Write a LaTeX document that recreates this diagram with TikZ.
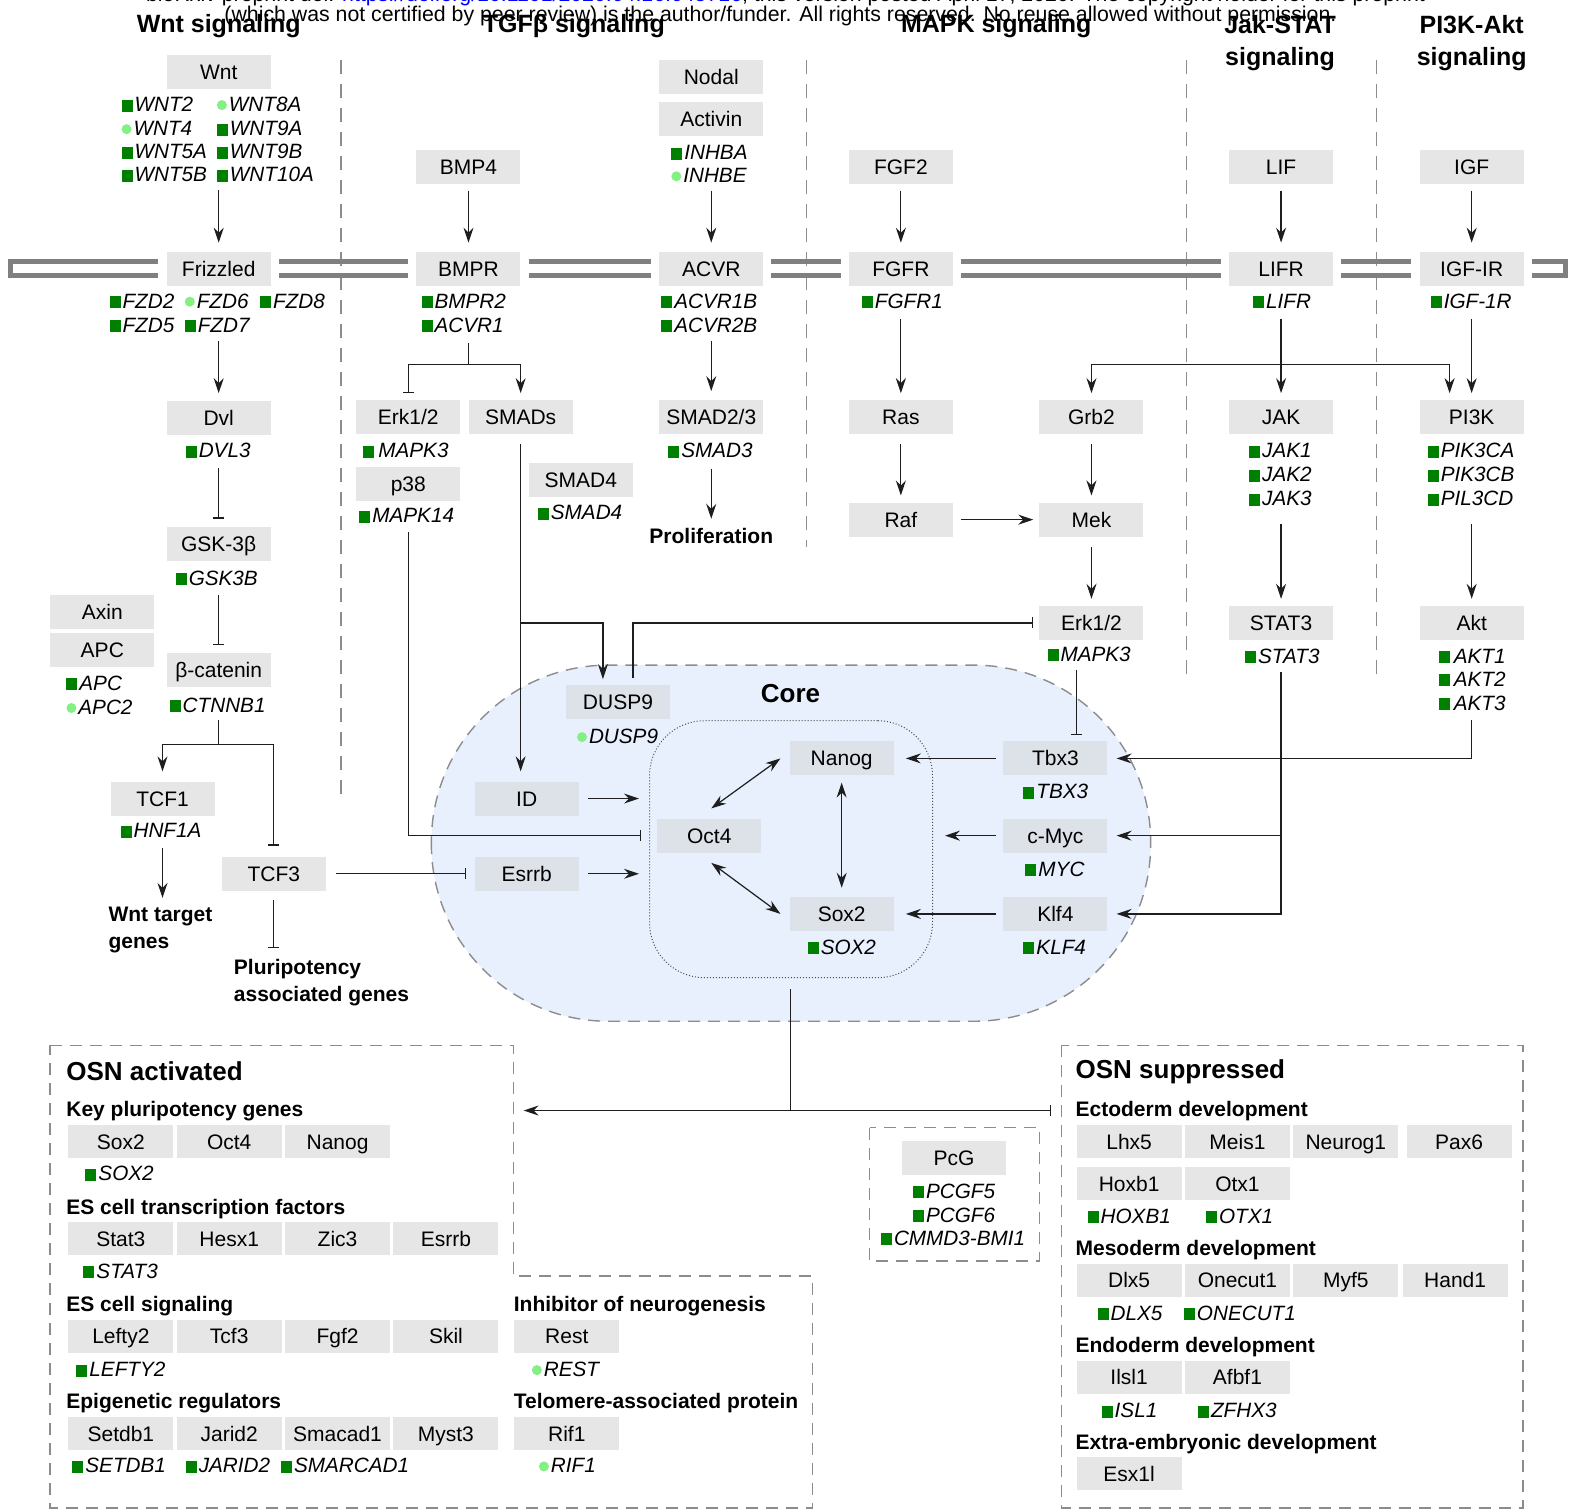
\documentclass[tikz,border=0pt]{standalone}
\usepackage{fontspec}
\setmainfont{Liberation Sans}
\usepackage{xcolor}
\usetikzlibrary{arrows.meta, positioning, calc}

\definecolor{boxgray}{RGB}{230,230,230}
\definecolor{coregray}{RGB}{221,225,232}
\definecolor{corefill}{RGB}{232,240,253}
\definecolor{sqgreen}{RGB}{0,128,0}
\definecolor{cigreen}{RGB}{130,240,130}
\definecolor{memgray}{RGB}{128,128,128}
\definecolor{dashgray}{RGB}{140,140,140}
\definecolor{linkcol}{RGB}{30,30,30}

% gene markers: square = detected, dot = weak
\newcommand{\sqm}{\textcolor{sqgreen}{\rule{11pt}{12pt}}\kern2pt}
\newcommand{\cim}{\tikz[baseline=0pt]\fill[cigreen] (5pt,6.5pt) circle[radius=5pt];\kern2pt}

\begin{document}
\begin{tikzpicture}[
  x=1.0032pt, y=-1.0032pt,
  box/.style={rectangle, fill=boxgray, minimum width=104pt, minimum height=34pt, inner sep=0pt, text height=15pt, text depth=0pt, font=\fontsize{21}{25}\selectfont},
  cbox/.style={box, fill=coregray},
  obox/.style={box, minimum width=105pt, minimum height=33pt},
  gene/.style={anchor=west, inner sep=0pt, text height=14.5pt, text depth=0pt, font=\fontsize{20.7}{25}\selectfont\itshape},
  heading/.style={align=center, inner sep=0pt, font=\fontsize{25}{32}\selectfont\bfseries},
  osnhead/.style={anchor=west, inner sep=0pt, font=\fontsize{26}{30}\selectfont\bfseries},
  grouplabel/.style={anchor=west, inner sep=0pt, text height=15pt, text depth=0pt, font=\fontsize{21}{25}\selectfont\bfseries},
  outcome/.style={align=left, inner sep=0pt, font=\fontsize{21}{27}\selectfont\bfseries},
  link/.style={linkcol, line width=1.2pt},
  arrow/.style={link, -{Stealth[length=15pt, width=10pt, inset=5pt]}},
  inhib/.style={link, -{Bar[width=11pt]}},
  dbl/.style={link, {Stealth[length=15pt, width=10pt, inset=5pt]}-{Stealth[length=15pt, width=10pt, inset=5pt]}},
  divider/.style={dashgray, line width=1.2pt, dash pattern=on 14pt off 10pt},
  boxline/.style={dashgray, line width=1.4pt, dash pattern=on 12pt off 8pt},
  membrane/.style={memgray, line width=5pt}
]
\useasboundingbox (0,0) rectangle (1568,1505);

% preprint header
\node[inner sep=0pt, font=\fontsize{21.3}{25}\selectfont] (hdr1) at (783,-4) {bioRxiv preprint doi: \textcolor{blue}{https://doi.org/10.1101/2020.04.16.045716}; this version posted April 17, 2020. The copyright holder for this preprint};
\node[inner sep=0pt, font=\fontsize{21.3}{25}\selectfont] (hdr2) at (778,16) {(which was not certified by peer review) is the author/funder. All rights reserved. No reuse allowed without permission.};

% pathway titles
\node[heading] (h-wnt) at (218,26.5) {Wnt signaling};
\node[heading] (h-tgf) at (572,26.5) {TGFβ signaling};
\node[heading] (h-mapk) at (993,26.5) {MAPK signaling};
\node[heading] (h-jak) at (1276,42.5) {Jak-STAT\\signaling};
\node[heading] (h-pi3k) at (1467,42.5) {PI3K-Akt\\signaling};

\draw[divider] (340,60) -- (340,795);
\draw[divider] (804,60) -- (804,545);
\draw[divider] (1183,60) -- (1183,672);
\draw[divider] (1372,60) -- (1372,672);

% core network background
\draw[boxline, fill=corefill, rounded corners=177pt] (430,663) rectangle (1147,1018);
\node[draw=black!70, dotted, line width=1pt, rounded corners=55pt, minimum width=283pt, minimum height=257pt, inner sep=0pt] (ring) at (788.5,846.5) {};
\node[inner sep=0pt, font=\fontsize{26}{30}\selectfont\bfseries] (core) at (788,691) {Core};

% Wnt
\node[box] (wnt) at (218,72) {Wnt};
\node[gene] (g-wnt2) at (121,104) {\sqm WNT2};
\node[gene] (g-wnt8a) at (216,104) {\cim WNT8A};
\node[gene] (g-wnt4) at (121,128) {\cim WNT4};
\node[gene] (g-wnt9a) at (216,128) {\sqm WNT9A};
\node[gene] (g-wnt5a) at (121,151) {\sqm WNT5A};
\node[gene] (g-wnt9b) at (216,151) {\sqm WNT9B};
\node[gene] (g-wnt5b) at (121,174) {\sqm WNT5B};
\node[gene] (g-wnt10a) at (216,174) {\sqm WNT10A};
\node[box] (frz) at (218,268) {Frizzled};
\node[gene] (g-fzd2) at (109,300) {\sqm FZD2};
\node[gene] (g-fzd6) at (184,300) {\cim FZD6};
\node[gene] (g-fzd8) at (259,300) {\sqm FZD8};
\node[gene] (g-fzd5) at (109,324) {\sqm FZD5};
\node[gene] (g-fzd7) at (184,324) {\sqm FZD7};
\node[box] (dvl) at (218,417) {Dvl};
\node[gene] (g-dvl3) at (185,449) {\sqm DVL3};
\node[box] (gsk) at (218,542) {GSK-3β};
\node[gene] (g-gsk3b) at (175,576) {\sqm GSK3B};
\node[box] (axin) at (102,610) {Axin};
\node[box] (apc) at (102,648) {APC};
\node[gene] (g-apc) at (66,681) {\sqm APC};
\node[gene] (g-apc2) at (66,705) {\cim APC2};
\node[box] (bcat) at (218,668) {β-catenin};
\node[gene] (g-ctnnb1) at (169,703) {\sqm CTNNB1};
\node[box] (tcf1) at (162,796) {TCF1};
\node[gene] (g-hnf1a) at (120,828) {\sqm HNF1A};
\node[box] (tcf3) at (273,871) {TCF3};
\node[outcome, anchor=north west] (wtg) at (108,904) {Wnt target\\genes};
\node[outcome, anchor=north west] (pag) at (233,956) {Pluripotency\\associated genes};

% TGFb
\node[box] (bmp4) at (467,166) {BMP4};
\node[box] (bmpr) at (467,268) {BMPR};
\node[gene] (g-bmpr2) at (420,300) {\sqm BMPR2};
\node[gene] (g-acvr1) at (420,324) {\sqm ACVR1};
\node[box] (erk1) at (407,416) {Erk1/2};
\node[gene] (g-mapk3a) at (362,449) {\sqm\kern2pt MAPK3};
\node[box] (p38) at (407,482) {p38};
\node[gene] (g-mapk14) at (358,514) {\sqm MAPK14};
\node[box] (smads) at (519,416) {SMADs};
\node[box] (smad4) at (579,478) {SMAD4};
\node[gene] (g-smad4) at (536,511) {\sqm SMAD4};
\node[box] (nodal) at (709,77) {Nodal};
\node[box] (activin) at (709,119) {Activin};
\node[gene] (g-inhba) at (669,152) {\sqm INHBA};
\node[gene] (g-inhbe) at (669,175) {\cim INHBE};
\node[box] (acvr) at (709,268) {ACVR};
\node[gene] (g-acvr1b) at (659,300) {\sqm ACVR1B};
\node[gene] (g-acvr2b) at (659,324) {\sqm ACVR2B};
\node[box] (smad23) at (709,416) {SMAD2/3};
\node[gene] (g-smad3) at (666,449) {\sqm SMAD3};
\node[inner sep=0pt, font=\fontsize{21}{25}\selectfont\bfseries] (prolif) at (709,534) {Proliferation};

% MAPK
\node[box] (fgf2) at (898,166) {FGF2};
\node[box] (fgfr) at (898,268) {FGFR};
\node[gene] (g-fgfr1) at (859,300) {\sqm FGFR1};
\node[box] (ras) at (898,416) {Ras};
\node[box] (raf) at (898,518) {Raf};
\node[box] (grb2) at (1088,416) {Grb2};
\node[box] (mek) at (1088,518) {Mek};
\node[box] (erk2) at (1088,621) {Erk1/2};
\node[gene] (g-mapk3b) at (1044,652) {\sqm MAPK3};

% Jak-STAT
\node[box] (lif) at (1277,166) {LIF};
\node[box] (lifr) at (1277,268) {LIFR};
\node[gene] (g-lifr) at (1249,300) {\sqm LIFR};
\node[box] (jak) at (1277,416) {JAK};
\node[gene] (g-jak1) at (1245,449) {\sqm JAK1};
\node[gene] (g-jak2) at (1245,473) {\sqm JAK2};
\node[gene] (g-jak3) at (1245,497) {\sqm JAK3};
\node[box] (stat3) at (1277,621) {STAT3};
\node[gene] (g-stat3a) at (1241,654) {\sqm STAT3};

% PI3K-Akt
\node[box] (igf) at (1467,166) {IGF};
\node[box] (igfr) at (1467,268) {IGF-IR};
\node[gene] (g-igf1r) at (1426,300) {\sqm IGF-1R};
\node[box] (pi3k) at (1467,416) {PI3K};
\node[gene] (g-pik3ca) at (1423,449) {\sqm PIK3CA};
\node[gene] (g-pik3cb) at (1423,473) {\sqm PIK3CB};
\node[gene] (g-pil3cd) at (1423,497) {\sqm PIL3CD};
\node[box] (akt) at (1467,621) {Akt};
\node[gene] (g-akt1) at (1434,654) {\sqm\kern2pt AKT1};
\node[gene] (g-akt2) at (1434,677) {\sqm\kern2pt AKT2};
\node[gene] (g-akt3) at (1434,701) {\sqm\kern2pt AKT3};

% core
\node[cbox] (dusp9) at (616,700) {DUSP9};
\node[gene] (g-dusp9) at (575,734) {\cim DUSP9};
\node[cbox] (id) at (525,796) {ID};
\node[cbox] (esrrb) at (525,871) {Esrrb};
\node[cbox] (oct4) at (707,833) {Oct4};
\node[cbox] (nanog) at (839,756) {Nanog};
\node[cbox] (sox2) at (839,911) {Sox2};
\node[gene] (g-sox2a) at (805,944) {\sqm SOX2};
\node[cbox] (tbx3) at (1052,756) {Tbx3};
\node[gene] (g-tbx3) at (1020,789) {\sqm TBX3};
\node[cbox] (cmyc) at (1052,833) {c-Myc};
\node[gene] (g-myc) at (1022,866) {\sqm MYC};
\node[cbox] (klf4) at (1052,911) {Klf4};
\node[gene] (g-klf4) at (1020,944) {\sqm KLF4};

% membrane
\foreach \a/\b in {frz/bmpr, bmpr/acvr, acvr/fgfr, fgfr/lifr, lifr/igfr} {
  \draw[membrane] ($(\a.east)+(8,-7)$) -- ($(\b.west)+(-8,-7)$);
  \draw[membrane] ($(\a.east)+(8,7)$) -- ($(\b.west)+(-8,7)$);
}
\draw[membrane] ($(frz.west)+(-8,-7)$) -- (10,261) -- (10,275) -- ($(frz.west)+(-8,7)$);
\draw[membrane] ($(igfr.east)+(8,-7)$) -- (1561,261) -- (1561,275) -- ($(igfr.east)+(8,7)$);

% Wnt links
\draw[arrow, shorten <=101pt, shorten >=9pt] (wnt) -- (frz);
\draw[arrow, shorten <=55pt, shorten >=8pt] (frz) -- (dvl);
\draw[inhib, shorten <=32pt, shorten >=8pt] (dvl) -- (gsk);
\draw[inhib, shorten <=34pt, shorten >=8pt] (gsk) -- (bcat);
\coordinate (catsplit) at (218,742);
\draw[link, shorten <=33pt] (bcat) -- (catsplit);
\draw[arrow, shorten >=10pt] (catsplit) -| (tcf1);
\draw[inhib, shorten >=11pt] (catsplit) -| (tcf3);
\draw[arrow, shorten <=32pt, shorten >=9pt] (tcf1) -- (tcf1 |- wtg.north);
\draw[inhib, shorten <=9pt, shorten >=11pt] (tcf3) -- (tcf3 |- pag.north);
\draw[inhib, shorten <=10pt, shorten >=8pt] (tcf3) -- (esrrb);

% TGFb links
\draw[arrow, shorten <=7pt, shorten >=9pt] (bmp4) -- (bmpr);
\coordinate (bmpsplit) at (464,363);
\draw[link, shorten <=57pt] (bmpr) -- (bmpr |- bmpsplit);
\draw[inhib, shorten >=7pt] (bmpsplit) -| (erk1);
\draw[arrow, shorten >=7pt] (bmpsplit) -| (smads);
\draw[inhib, shorten <=31pt, shorten >=16pt] (p38) |- (oct4);
\draw[arrow, shorten <=9pt, shorten >=10pt] (smads) -- (smads |- id.north);
\coordinate (smadsplit) at (519,621);
\coordinate (dusp-in) at ($(dusp9.north)+(-15,0)$);
\coordinate (dusp-out) at ($(dusp9.north)+(15,0)$);
\draw[arrow, shorten >=6pt] (smadsplit) -| (dusp-in);
\draw[inhib, shorten <=7pt, shorten >=6pt] (dusp-out) |- (erk2);
\draw[arrow, shorten <=54pt, shorten >=9pt] (activin) -- (acvr);
\draw[arrow, shorten <=55pt, shorten >=9pt] (acvr) -- (smad23);
\draw[arrow, shorten <=34pt, shorten >=9pt] (smad23) -- (prolif);

% MAPK links
\draw[arrow, shorten <=7pt, shorten >=9pt] (fgf2) -- (fgfr);
\draw[arrow, shorten <=33pt, shorten >=7pt] (fgfr) -- (ras);
\draw[arrow, shorten <=9pt, shorten >=7pt] (ras) -- (raf);
\draw[arrow, shorten <=8pt, shorten >=6pt] (raf) -- (mek);
\draw[arrow, shorten <=9pt, shorten >=7pt] (grb2) -- (mek);
\draw[arrow, shorten <=10pt, shorten >=7pt] (mek) -- (erk2);
\coordinate (erkout) at ($(erk2.south)+(-15,0)$);
\draw[inhib, shorten <=30pt, shorten >=6pt] (erkout) -- (erkout |- tbx3.north);

% Jak-STAT links
\draw[arrow, shorten <=7pt, shorten >=9pt] (lif) -- (lifr);
\draw[arrow, shorten <=33pt, shorten >=7pt] (lifr) -- (jak);
\coordinate (lifsplit) at (1277,363);
\coordinate (pi3k-in) at ($(pi3k.north)+(-22,0)$);
\draw[arrow, shorten >=7pt] (lifsplit) -| (grb2);
\draw[arrow, shorten >=7pt] (lifsplit) -| (pi3k-in);
\draw[arrow, shorten <=89pt, shorten >=7pt] (jak) -- (stat3);
\draw[arrow, shorten <=32pt, shorten >=9pt] (stat3) |- (cmyc);
\draw[arrow, shorten <=32pt, shorten >=9pt] (stat3) |- (klf4);

% PI3K links
\draw[arrow, shorten <=7pt, shorten >=9pt] (igf) -- (igfr);
\draw[arrow, shorten <=33pt, shorten >=7pt] (igfr) -- (pi3k);
\draw[arrow, shorten <=89pt, shorten >=7pt] (pi3k) -- (akt);
\draw[arrow, shorten <=80pt, shorten >=9pt] (akt) |- (tbx3);

% core links
\draw[arrow, shorten <=9pt, shorten >=10pt] (id) -- (id -| ring.west);
\draw[arrow, shorten <=9pt, shorten >=10pt] (esrrb) -- (esrrb -| ring.west);
\draw[dbl] ($(oct4.north)+(2,-10)$) -- ($(nanog.west)+(-9,0)$);
\draw[dbl] ($(oct4.south)+(2,10)$) -- ($(sox2.west)+(-9,0)$);
\draw[dbl, shorten <=7pt, shorten >=9pt] (nanog) -- (sox2);
\draw[arrow, shorten <=7pt, shorten >=12pt] (tbx3) -- (nanog);
\draw[arrow, shorten <=7pt, shorten >=12pt] (cmyc) -- (cmyc -| ring.east);
\draw[arrow, shorten <=7pt, shorten >=12pt] (klf4) -- (sox2);

% OSN targets
\draw[boxline] (50,1042) -- (512,1042) -- (512,1272) -- (810,1272) -- (810,1503) -- (50,1503) -- cycle;
\draw[boxline] (867,1124) rectangle (1036,1257);
\draw[boxline] (1058,1042) rectangle (1518,1503);

\coordinate (coreout) at (788,986);
\coordinate (osnsplit) at (788,1107);
\coordinate (act-in) at (512,1107);
\coordinate (sup-in) at (1058,1107);
\draw[link] (coreout) -- (osnsplit);
\draw[arrow, shorten >=10pt] (osnsplit) -- (act-in);
\draw[inhib, shorten >=10pt] (osnsplit) -- (sup-in);

\node[osnhead] (osnact) at (66,1068) {OSN activated};
\node[grouplabel] (l-key) at (66,1105) {Key pluripotency genes};
\node[obox] (a-sox2) at (120.5,1138) {Sox2};
\node[obox] (a-oct4) at (228.5,1138) {Oct4};
\node[obox] (a-nanog) at (336.5,1138) {Nanog};
\node[gene] (g-sox2b) at (85,1170) {\sqm SOX2};
\node[grouplabel] (l-estf) at (66,1203) {ES cell transcription factors};
\node[obox] (a-stat3) at (120.5,1235) {Stat3};
\node[obox] (a-hesx1) at (228.5,1235) {Hesx1};
\node[obox] (a-zic3) at (336.5,1235) {Zic3};
\node[obox] (a-esrrb) at (444.5,1235) {Esrrb};
\node[gene] (g-stat3b) at (83,1267) {\sqm STAT3};
\node[grouplabel] (l-essig) at (66,1300) {ES cell signaling};
\node[obox] (a-lefty2) at (120.5,1332) {Lefty2};
\node[obox] (a-tcf3) at (228.5,1332) {Tcf3};
\node[obox] (a-fgf2) at (336.5,1332) {Fgf2};
\node[obox] (a-skil) at (444.5,1332) {Skil};
\node[gene] (g-lefty2) at (76,1365) {\sqm LEFTY2};
\node[grouplabel] (l-epi) at (66,1397) {Epigenetic regulators};
\node[obox] (a-setdb1) at (120.5,1429) {Setdb1};
\node[obox] (a-jarid2) at (228.5,1429) {Jarid2};
\node[obox] (a-smacad1) at (336.5,1429) {Smacad1};
\node[obox] (a-myst3) at (444.5,1429) {Myst3};
\node[gene] (g-setdb1) at (72,1461) {\sqm SETDB1};
\node[gene] (g-jarid2) at (185,1461) {\sqm JARID2};
\node[gene] (g-smarcad1) at (280,1461) {\sqm SMARCAD1};
\node[grouplabel] (l-neuro) at (512,1300) {Inhibitor of neurogenesis};
\node[obox] (a-rest) at (565,1332) {Rest};
\node[gene] (g-rest) at (530,1365) {\cim REST};
\node[grouplabel] (l-telo) at (512,1397) {Telomere-associated protein};
\node[obox] (a-rif1) at (565,1429) {Rif1};
\node[gene] (g-rif1) at (537,1461) {\cim RIF1};

\node[box] (pcg) at (951,1154) {PcG};
\node[gene] (g-pcgf5) at (910,1187) {\sqm PCGF5};
\node[gene] (g-pcgf6) at (910,1211) {\sqm PCGF6};
\node[gene] (g-bmi1) at (878,1234) {\sqm CMMD3-BMI1};

\node[osnhead] (osnsup) at (1072,1068) {OSN suppressed};
\node[grouplabel] (l-ecto) at (1072,1105) {Ectoderm development};
\node[obox] (s-lhx5) at (1125.5,1138) {Lhx5};
\node[obox] (s-meis1) at (1233.5,1138) {Meis1};
\node[obox] (s-neurog1) at (1341.5,1138) {Neurog1};
\node[obox] (s-pax6) at (1454.5,1138) {Pax6};
\node[obox] (s-hoxb1) at (1125.5,1180) {Hoxb1};
\node[obox] (s-otx1) at (1233.5,1180) {Otx1};
\node[gene] (g-hoxb1) at (1084,1212) {\sqm HOXB1};
\node[gene] (g-otx1) at (1202,1212) {\sqm OTX1};
\node[grouplabel] (l-meso) at (1072,1244) {Mesoderm development};
\node[obox] (s-dlx5) at (1125.5,1276) {Dlx5};
\node[obox] (s-onecut1) at (1233.5,1276) {Onecut1};
\node[obox] (s-myf5) at (1341.5,1276) {Myf5};
\node[obox] (s-hand1) at (1450.5,1276) {Hand1};
\node[gene] (g-dlx5) at (1094,1309) {\sqm DLX5};
\node[gene] (g-onecut1) at (1180,1309) {\sqm ONECUT1};
\node[grouplabel] (l-endo) at (1072,1341) {Endoderm development};
\node[obox] (s-ilsl1) at (1125.5,1373) {Ilsl1};
\node[obox] (s-afbf1) at (1233.5,1373) {Afbf1};
\node[gene] (g-isl1) at (1098,1406) {\sqm ISL1};
\node[gene] (g-zfhx3) at (1194,1406) {\sqm ZFHX3};
\node[grouplabel] (l-extra) at (1072,1437) {Extra-embryonic development};
\node[obox] (s-esx1l) at (1125.5,1469) {Esx1l};

\end{tikzpicture}
\end{document}
